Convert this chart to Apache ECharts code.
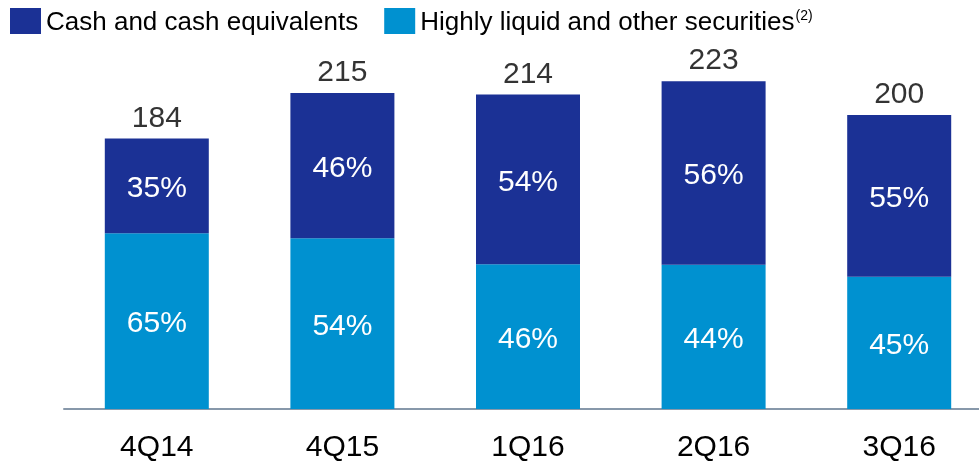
<!DOCTYPE html>
<html>
<head>
<meta charset="utf-8">
<script src="https://cdn.jsdelivr.net/npm/echarts@6/dist/echarts.min.js"></script>
<style>
    html, body { margin: 0; padding: 0; background: #fff; }
    #chartMain { width: 979px; height: 462px; }
</style>
</head>
<body>
<div id="chartMain"></div>
<script>
// data
const quarters = ['4Q14', '4Q15', '1Q16', '2Q16', '3Q16']
const totals = [184, 215, 214, 223, 200]
const cashPct = [35, 46, 54, 56, 55]
const otherPct = [65, 54, 46, 44, 45]

const cashValues = totals.map((t, i) => (t * cashPct[i]) / 100)
const otherValues = totals.map((t, i) => (t * otherPct[i]) / 100)

const fontFamily = '"Liberation Sans", Arial, sans-serif'
const chart = echarts.init(document.getElementById('chartMain'))

const option = {
    animation: false,
    textStyle: { fontFamily: fontFamily },
    legend: {
        left: 5,
        top: 3,
        itemWidth: 31,
        itemHeight: 26,
        itemGap: 26,
        icon: 'rect',
        data: ['Cash and cash equivalents', 'Highly liquid and other securities'],
        formatter: (name) => (name.indexOf('Highly') === 0 ? name + '{sup|(2)}' : name),
        textStyle: {
            color: '#000',
            fontSize: 26,
            fontFamily: fontFamily,
            padding: [3, 0, 0, 0],
            rich: {
                sup: { fontSize: 14, verticalAlign: 'top', padding: [0, 0, 12, 1], fontFamily: fontFamily },
            },
        },
    },
    grid: {
        left: 64,
        width: 928,
        top: 41.5,
        bottom: 53,
        containLabel: false,
        outerBoundsMode: 'none',
    },
    xAxis: {
        type: 'category',
        data: quarters,
        axisTick: { show: false },
        axisLine: { lineStyle: { color: '#8798aa', width: 2 } },
        axisLabel: { color: '#000', fontSize: 30, margin: 24, fontFamily: fontFamily },
    },
    yAxis: {
        type: 'value',
        min: 0,
        max: 250,
        show: false,
        splitLine: { show: false },
    },
    series: [
        {
            name: 'Highly liquid and other securities',
            type: 'bar',
            stack: 'total',
            barWidth: 104,
            data: otherValues,
            itemStyle: { color: '#0091d0' },
            label: {
                show: true,
                position: 'inside',
                offset: [0, 3],
                color: '#fff',
                fontSize: 30,
                fontFamily: fontFamily,
                formatter: (p) => otherPct[p.dataIndex] + '%',
            },
        },
        {
            name: 'Cash and cash equivalents',
            type: 'bar',
            stack: 'total',
            barWidth: 104,
            data: cashValues,
            itemStyle: { color: '#1b3195' },
            label: {
                show: true,
                position: 'inside',
                offset: [0, 3],
                color: '#fff',
                fontSize: 30,
                fontFamily: fontFamily,
                formatter: (p) => cashPct[p.dataIndex] + '%',
            },
        },
        {
            // totals above the bars
            type: 'scatter',
            data: totals,
            symbolSize: 0,
            silent: true,
            label: {
                show: true,
                position: 'top',
                distance: 5,
                color: '#000',
                fontSize: 30,
                fontFamily: fontFamily,
            },
        },
    ],
}
option && chart.setOption(option)
</script>
</body>
</html>
